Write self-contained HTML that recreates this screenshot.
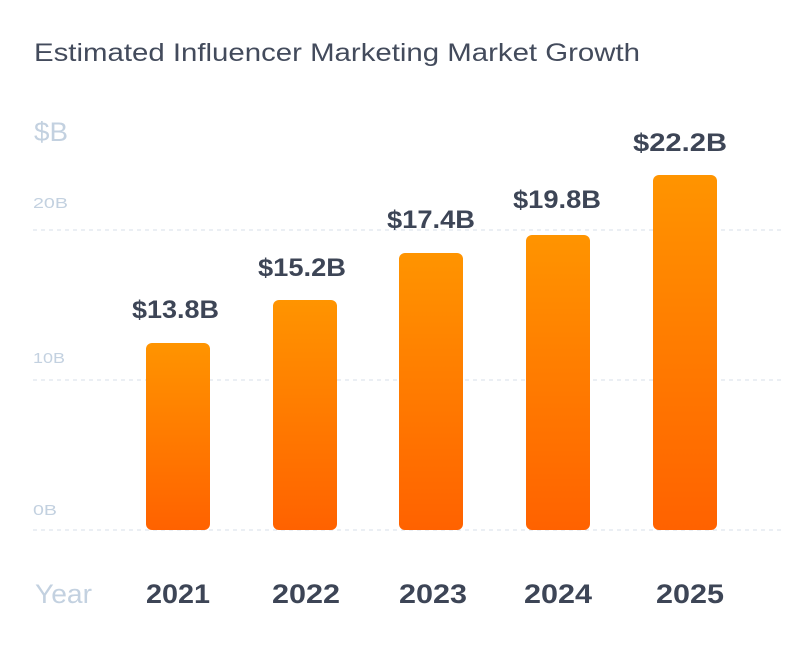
<!DOCTYPE html>
<html><head><style>
body{margin:0;background:#fff;}
svg text{font-family:"Liberation Sans",sans-serif;}
</style></head><body>
<svg width="806" height="645" viewBox="0 0 806 645" xmlns="http://www.w3.org/2000/svg">
<defs><linearGradient id="g" x1="0" y1="0" x2="0" y2="1"><stop offset="0" stop-color="#ff9400"/><stop offset="1" stop-color="#ff6200"/></linearGradient></defs>
<text x="34" y="61" font-size="25" fill="#434b5c" textLength="606" lengthAdjust="spacingAndGlyphs">Estimated Influencer Marketing Market Growth</text>
<text x="34" y="141" font-size="27" fill="#c3d1e0" textLength="34" lengthAdjust="spacingAndGlyphs">$B</text>
<g stroke="#dfe5ee" stroke-width="1.3" stroke-dasharray="4,4">
<line x1="33" y1="230" x2="785" y2="230"/><line x1="33" y1="380" x2="785" y2="380"/><line x1="33" y1="530" x2="785" y2="530"/></g>
<g font-size="15" fill="#c3d1e0"><text x="33" y="208" textLength="35" lengthAdjust="spacingAndGlyphs">20B</text><text x="33" y="363" textLength="32" lengthAdjust="spacingAndGlyphs">10B</text><text x="33" y="515" textLength="24" lengthAdjust="spacingAndGlyphs">0B</text></g>
<g fill="url(#g)">
<rect x="146" y="343" width="64" height="187" rx="6"/>
<rect x="273" y="300" width="64" height="230" rx="6"/>
<rect x="399" y="253" width="64" height="277" rx="6"/>
<rect x="526" y="235" width="64" height="295" rx="6"/>
<rect x="653" y="175" width="64" height="355" rx="6"/></g>
<g font-size="25" font-weight="bold" fill="#3d4556">
<text x="132" y="318" textLength="87" lengthAdjust="spacingAndGlyphs">$13.8B</text>
<text x="258" y="276" textLength="88" lengthAdjust="spacingAndGlyphs">$15.2B</text>
<text x="387" y="228" textLength="88" lengthAdjust="spacingAndGlyphs">$17.4B</text>
<text x="513" y="208" textLength="88" lengthAdjust="spacingAndGlyphs">$19.8B</text>
<text x="633" y="151" textLength="94" lengthAdjust="spacingAndGlyphs">$22.2B</text></g>
<text x="35" y="603" font-size="27" fill="#c3d1e0" textLength="57" lengthAdjust="spacingAndGlyphs">Year</text>
<g font-size="27" font-weight="bold" fill="#3d4556">
<text x="146" y="603" textLength="64" lengthAdjust="spacingAndGlyphs">2021</text>
<text x="272" y="603" textLength="68" lengthAdjust="spacingAndGlyphs">2022</text>
<text x="399" y="603" textLength="68" lengthAdjust="spacingAndGlyphs">2023</text>
<text x="524" y="603" textLength="68" lengthAdjust="spacingAndGlyphs">2024</text>
<text x="656" y="603" textLength="68" lengthAdjust="spacingAndGlyphs">2025</text></g>
</svg>
</body></html>
